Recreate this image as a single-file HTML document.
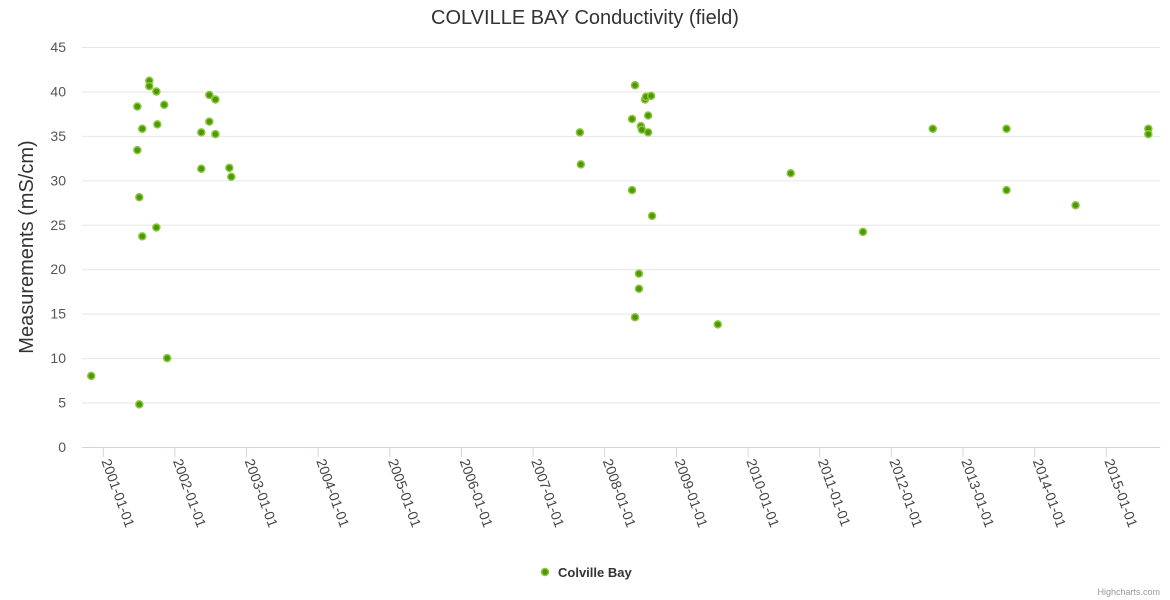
<!DOCTYPE html>
<html><head><meta charset="utf-8"><style>
body{margin:0;background:#fff;font-family:"Liberation Sans",sans-serif}
svg{display:block}
</style></head><body>
<svg id="chart" width="1170" height="600" xmlns="http://www.w3.org/2000/svg">
<text x="585" y="24" text-anchor="middle" font-size="20" fill="#333">COLVILLE BAY Conductivity (field)</text>
<g id="grid"></g>
<g id="ylabels"></g>
<text transform="translate(33,247) rotate(-90)" text-anchor="middle" font-size="20" fill="#333">Measurements (mS/cm)</text>
<line x1="82" y1="447.5" x2="1160" y2="447.5" stroke="#ccd6eb"/>
<g id="xlabels"></g>
<g id="points"></g>
<g>
<circle cx="545" cy="572" r="3.5" fill="#4a9a00" stroke="#8cc63f" stroke-width="1.5"/>
<text x="558" y="577" font-size="13" font-weight="bold" fill="#333">Colville Bay</text>
</g>
<text x="1160" y="595" text-anchor="end" font-size="9" fill="#999">Highcharts.com</text>
</svg>
<script>
const dates=["2000-10-29","2001-06-21","2001-06-21","2001-07-01","2001-07-01","2001-07-16","2001-07-16","2001-08-21","2001-08-21","2001-09-26","2001-10-01","2001-09-26","2001-11-05","2001-11-20","2002-05-13","2002-05-13","2002-06-23","2002-06-23","2002-07-24","2002-07-24","2002-10-03","2002-10-13","2007-08-25","2007-08-30","2008-05-17","2008-05-17","2008-06-01","2008-06-01","2008-06-21","2008-06-21","2008-07-01","2008-07-06","2008-07-22","2008-07-27","2008-08-07","2008-08-07","2008-08-22","2008-08-27","2009-07-28","2010-08-04","2011-08-07","2012-07-28","2013-08-08","2013-08-08","2014-07-26","2015-08-01","2015-08-01"];
const values=[8.0,38.3,33.4,28.1,4.8,35.8,23.7,41.2,40.6,40.0,36.3,24.7,38.5,10.0,35.4,31.3,39.6,36.6,39.1,35.2,31.4,30.4,35.4,31.8,36.9,28.9,40.7,14.6,19.5,17.8,36.1,35.7,39.1,39.4,37.3,35.4,39.5,26.0,13.8,30.8,24.2,35.8,35.8,28.9,27.2,35.8,35.2];
const yTicks=[0,5,10,15,20,25,30,35,40,45];
const xTicks=["2001-01-01","2002-01-01","2003-01-01","2004-01-01","2005-01-01","2006-01-01","2007-01-01","2008-01-01","2009-01-01","2010-01-01","2011-01-01","2012-01-01","2013-01-01","2014-01-01","2015-01-01"];
const NS="http://www.w3.org/2000/svg";
const t0=Date.UTC(2001,0,1);
function xs(d){return 103.8+(Date.parse(d+"T00:00:00Z")-t0)/86400000*0.19616;}
function ys(v){return 447-v*400/45;}
const grid=document.getElementById('grid'),yl=document.getElementById('ylabels'),xl=document.getElementById('xlabels'),pts=document.getElementById('points');
yTicks.forEach(v=>{
 if(v>0){const l=document.createElementNS(NS,'line');
 
 
 l.setAttribute('x1',82);l.setAttribute('x2',1160);l.setAttribute('y1',ys(v)+0.5);l.setAttribute('y2',ys(v)+0.5);l.setAttribute('stroke','#e6e6e6');grid.appendChild(l);}
 const t=document.createElementNS(NS,'text');
 
 
 t.setAttribute('x',66);t.setAttribute('y',ys(v)+5);t.setAttribute('text-anchor','end');t.setAttribute('font-size','14');t.setAttribute('fill','#555');t.textContent=v;yl.appendChild(t);
});
xTicks.forEach(d=>{
 const x=xs(d)-0.5;
 const l=document.createElementNS(NS,'line');
 
 
 l.setAttribute('x1',x);l.setAttribute('x2',x);l.setAttribute('y1',447);l.setAttribute('y2',457);l.setAttribute('stroke','#ccd6eb');xl.appendChild(l);
 const t=document.createElementNS(NS,'text');
 
 
 t.setAttribute('transform','translate('+(x-2)+',461) rotate(70)');t.setAttribute('font-size','14');t.setAttribute('fill','#444');t.textContent=d;xl.appendChild(t);
});
dates.forEach((d,i)=>{
 const c=document.createElementNS(NS,'circle');
 
 
 c.setAttribute('cx',xs(d));c.setAttribute('cy',ys(values[i]));c.setAttribute('r',3.5);c.setAttribute('fill','#4a9a00');c.setAttribute('stroke','#8cc63f');c.setAttribute('stroke-width','1.5');pts.appendChild(c);
});
</script>
</body></html>
